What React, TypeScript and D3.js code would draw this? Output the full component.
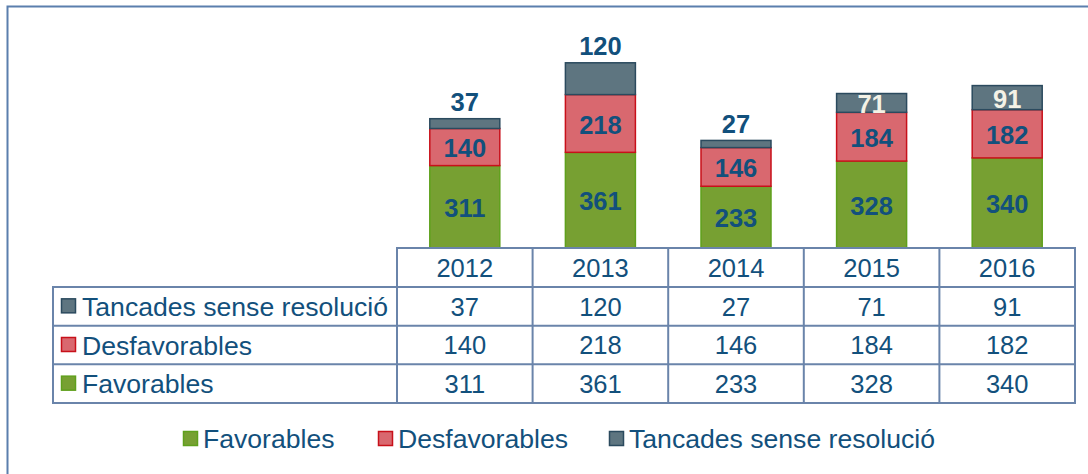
import React, { useEffect, useRef } from 'react';
import * as d3 from 'd3';

const years = ['2012', '2013', '2014', '2015', '2016'];
const favorables = [311, 361, 233, 328, 340];
const desfavorables = [140, 218, 146, 184, 182];
const tancades = [37, 120, 27, 71, 91];

const seriesNames = ['Favorables', 'Desfavorables', 'Tancades sense resolució'];
const fills = ['#77a032', '#d9686f', '#5e7580'];
const strokes = ['#5fa01c', '#c8101a', '#2b4a5e'];
// labels of the small/top segment go above the bar in these years
const labelAbove = [true, true, true, false, false];

const TEXT = '#12507c';
const GRID = '#6a84aa';
const FONT = '"Liberation Sans", Arial, sans-serif';

const App = () => {
  const ref = useRef<SVGSVGElement>(null);

  useEffect(() => {
    draw(ref.current);
  }, []);

  return (
    <div style={{ position: 'absolute', left: 0, top: 0 }}>
      <svg ref={ref} width={1088} height={474} />
    </div>
  );
};

const draw = (el: SVGSVGElement | null) => {
  if (!el) return;
  const svg = d3.select(el);
  svg.selectAll('*').remove();
  svg.style('font-family', FONT).style('background', '#fff');

  // outer frame
  svg.append('rect')
    .attr('x', 7.5).attr('y', 6.5)
    .attr('width', 1100).attr('height', 500)
    .attr('fill', 'none').attr('stroke', '#5b7fad').attr('stroke-width', 2);

  const tableLeft = 53, colLeft = 397, colRight = 1075;
  const headerTop = 248, headerBottom = 287, tableBottom = 403;

  const x = d3.scaleBand<string>().domain(years).range([colLeft, colRight]);
  const y = d3.scaleLinear().domain([0, 936]).range([headerTop, 0]);

  const rowsData = [tancades, desfavorables, favorables];
  const rowNames = [seriesNames[2], seriesNames[1], seriesNames[0]];
  const rowFills = [fills[2], fills[1], fills[0]];
  const rowStrokes = [strokes[2], strokes[1], strokes[0]];
  const rowY = d3.scaleBand<number>().domain([0, 1, 2]).range([headerBottom, tableBottom]);

  // bars
  const stackData = years.map((yr, i) => ({ year: yr, f: favorables[i], d: desfavorables[i], t: tancades[i], i }));
  const stack = d3.stack<any>().keys(['f', 'd', 't']);
  const layers = stack(stackData);
  const barW = 70;

  layers.forEach((layer, li) => {
    const g = svg.append('g');
    g.selectAll('rect')
      .data(layer)
      .enter().append('rect')
      .attr('x', (d: any) => x(d.data.year)! + x.bandwidth() / 2 - barW / 2)
      .attr('y', (d: any) => y(d[1]))
      .attr('width', barW)
      .attr('height', (d: any) => y(d[0]) - y(d[1]))
      .attr('fill', fills[li])
      .attr('stroke', strokes[li])
      .attr('stroke-width', 1.5);

    g.selectAll('text')
      .data(layer)
      .enter().append('text')
      .attr('x', (d: any) => x(d.data.year)! + x.bandwidth() / 2)
      .attr('y', (d: any) => {
        if (li === 2 && labelAbove[d.data.i]) return y(d[1]) - 17;
        return (y(d[0]) + y(d[1])) / 2 + 1;
      })
      .attr('dy', '0.36em')
      .attr('text-anchor', 'middle')
      .attr('font-size', 25.5)
      .attr('font-weight', 'bold')
      .attr('fill', (d: any) => (li === 2 && !labelAbove[d.data.i] ? '#f4f2e6' : TEXT))
      .text((d: any) => d[1] - d[0]);
  });

  // data table
  const grid = svg.append('g')
    .attr('fill', 'none').attr('stroke', GRID).attr('stroke-width', 2);

  grid.append('rect')
    .attr('x', colLeft).attr('y', headerTop)
    .attr('width', colRight - colLeft).attr('height', headerBottom - headerTop);
  grid.append('rect')
    .attr('x', tableLeft).attr('y', headerBottom)
    .attr('width', colRight - tableLeft).attr('height', tableBottom - headerBottom);

  years.forEach((yr, i) => {
    if (i === 0) return;
    grid.append('line')
      .attr('x1', x(yr)).attr('x2', x(yr))
      .attr('y1', headerTop).attr('y2', tableBottom);
  });
  grid.append('line')
    .attr('x1', colLeft).attr('x2', colLeft)
    .attr('y1', headerTop).attr('y2', tableBottom);
  [1, 2].forEach(r => {
    grid.append('line')
      .attr('x1', tableLeft).attr('x2', colRight)
      .attr('y1', rowY(r)).attr('y2', rowY(r));
  });

  // header years
  svg.append('g').selectAll('text')
    .data(years)
    .enter().append('text')
    .attr('x', d => x(d)! + x.bandwidth() / 2)
    .attr('y', (headerTop + headerBottom) / 2)
    .attr('dy', '0.36em')
    .attr('text-anchor', 'middle')
    .attr('font-size', 25.5)
    .attr('fill', TEXT)
    .text(d => d);

  rowsData.forEach((vals, r) => {
    const cy = rowY(r)! + rowY.bandwidth() / 2;
    const g = svg.append('g');
    g.append('rect')
      .attr('x', 61.5).attr('y', cy - 7.5)
      .attr('width', 14).attr('height', 14)
      .attr('fill', rowFills[r]).attr('stroke', rowStrokes[r]).attr('stroke-width', 1.5);
    g.append('text')
      .attr('x', 82).attr('y', cy).attr('dy', '0.36em')
      .attr('font-size', 26.6).attr('fill', TEXT)
      .text(rowNames[r]);
    g.selectAll('text.v')
      .data(vals)
      .enter().append('text')
      .attr('class', 'v')
      .attr('x', (d, i) => x(years[i])! + x.bandwidth() / 2)
      .attr('y', cy).attr('dy', '0.36em')
      .attr('text-anchor', 'middle')
      .attr('font-size', 25.5).attr('fill', TEXT)
      .text(d => d);
  });

  // legend
  const legendX = [183, 378, 609];
  const legend = svg.append('g');
  seriesNames.forEach((name, i) => {
    legend.append('rect')
      .attr('x', legendX[i] + 0.5).attr('y', 431.5)
      .attr('width', 14).attr('height', 14)
      .attr('fill', fills[i]).attr('stroke', strokes[i]).attr('stroke-width', 1.5);
    legend.append('text')
      .attr('x', legendX[i] + 20).attr('y', 438.5).attr('dy', '0.36em')
      .attr('font-size', 26.6).attr('fill', TEXT)
      .text(name);
  });
};

export default App;
